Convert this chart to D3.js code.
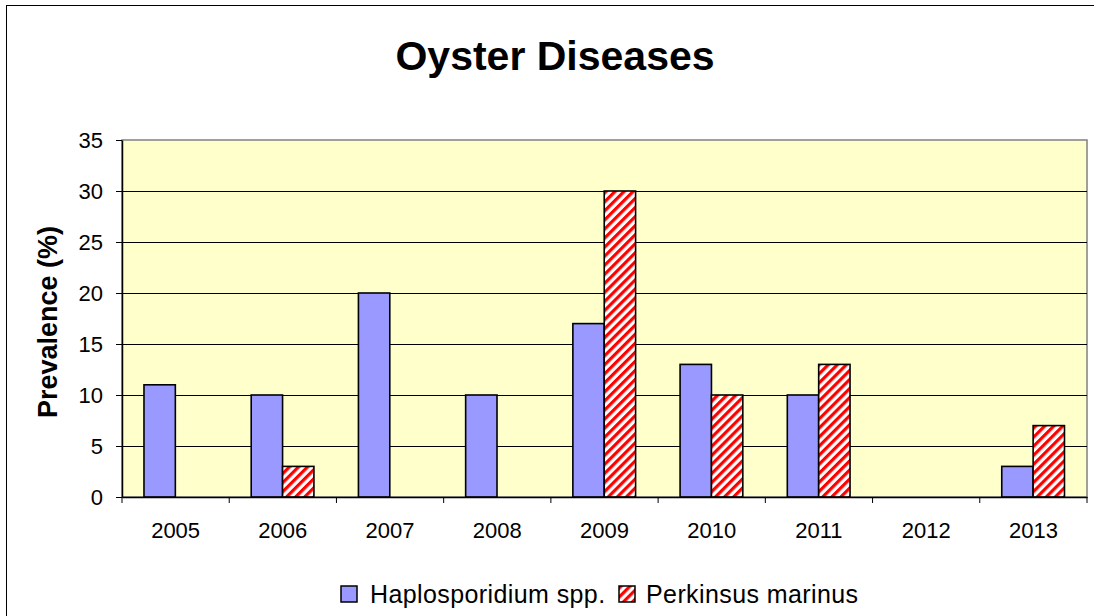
<!DOCTYPE html>
<html>
<head>
<meta charset="utf-8">
<script src="https://cdn.jsdelivr.net/npm/d3@7"></script>
<style>
  html, body { margin: 0; padding: 0; background: #fff; }
  svg { display: block; }
  text { font-family: "Liberation Sans", Arial, sans-serif; fill: #000; }
</style>
</head>
<body>
<svg id="chart" width="1094" height="616"></svg>
<script>
const years = ["2005","2006","2007","2008","2009","2010","2011","2012","2013"];
const seriesNames = ["Haplosporidium spp.", "Perkinsus marinus"];
const haplosporidium = [11, 10, 20, 10, 17, 13, 10, 0, 3];
const perkinsus = [0, 3, 0, 0, 30, 10, 13, 0, 7];
const yTicks = [0, 5, 10, 15, 20, 25, 30, 35];
const titleText = "Oyster Diseases";
const yLabel = "Prevalence (%)";

const svg = d3.select("#chart");
const plot = { left: 122, top: 140, right: 1087, bottom: 497 };

// outer frame
svg.append("rect").attr("x", 6.5).attr("y", 5.5).attr("width", 1200).attr("height", 800)
  .attr("fill", "#fff").attr("stroke", "#000").attr("stroke-width", 1);

// hatch pattern
const P = 6.4;
const defs = svg.append("defs");
const pat = defs.append("pattern").attr("id", "hatch").attr("patternUnits", "userSpaceOnUse")
  .attr("width", P).attr("height", P).attr("patternTransform", "rotate(45)");
pat.append("rect").attr("width", P).attr("height", P).attr("fill", "#fff");
pat.append("rect").attr("width", P * 0.5).attr("height", P).attr("fill", "#ff0000");

const x0 = d3.scaleBand().domain(years).range([plot.left, plot.right]).paddingInner(0).paddingOuter(0);
const x1 = d3.scaleBand().domain(seriesNames)
  .range([x0.bandwidth() * 0.205, x0.bandwidth() * 0.79]).padding(0);
const y = d3.scaleLinear().domain([0, 35]).range([plot.bottom, plot.top]);

// plot area background
svg.append("rect").attr("x", plot.left).attr("y", plot.top)
  .attr("width", plot.right - plot.left).attr("height", plot.bottom - plot.top)
  .attr("fill", "#ffffcc").attr("stroke", "#808080").attr("stroke-width", 1.5);

// gridlines
svg.append("g").selectAll("line").data(yTicks.filter(t => t > 0 && t < 35)).join("line")
  .attr("x1", plot.left).attr("x2", plot.right)
  .attr("y1", d => Math.round(y(d)) + 0.5).attr("y2", d => Math.round(y(d)) + 0.5)
  .attr("stroke", "#000").attr("stroke-width", 1);

// bars
const data = years.map((yr, i) => ({ year: yr, values: [
  { s: seriesNames[0], v: haplosporidium[i] },
  { s: seriesNames[1], v: perkinsus[i] }
]}));
const fills = { [seriesNames[0]]: "#9999ff", [seriesNames[1]]: "url(#hatch)" };

svg.append("g").selectAll("g").data(data).join("g")
  .attr("transform", d => `translate(${x0(d.year)},0)`)
  .selectAll("rect").data(d => d.values.filter(e => e.v > 0)).join("rect")
  .attr("x", d => x1(d.s)).attr("width", x1.bandwidth())
  .attr("y", d => y(d.v)).attr("height", d => y(0) - y(d.v))
  .attr("fill", d => fills[d.s]).attr("stroke", "#000").attr("stroke-width", 1.6);

// y axis
const yAxis = d3.axisLeft(y).tickValues(yTicks).tickSize(6).tickSizeOuter(0).tickFormat(d3.format("d"));
const gy = svg.append("g").attr("transform", `translate(${plot.left},0)`).call(yAxis);
gy.attr("font-size", null).attr("font-family", null);
gy.select(".domain").attr("stroke", "#000").attr("stroke-width", 1.5);
gy.selectAll(".tick line").attr("stroke", "#000");
gy.selectAll(".tick text").style("font-size", "22px").attr("x", -19).attr("dy", "0.36em")
  .attr("fill", "#000");

// x axis
const xAxis = d3.axisBottom(x0).tickSize(0).tickSizeOuter(0);
const gx = svg.append("g").attr("transform", `translate(0,${plot.bottom})`).call(xAxis);
gx.attr("font-size", null).attr("font-family", null);
gx.select(".domain").attr("stroke", "#000").attr("stroke-width", 1.5);
gx.selectAll(".tick text").style("font-size", "22px").attr("y", 41).attr("dy", null)
  .attr("fill", "#000");
// category boundary ticks
svg.append("g").selectAll("line").data(years.concat(["end"])).join("line")
  .attr("x1", d => d === "end" ? plot.right : x0(d)).attr("x2", d => d === "end" ? plot.right : x0(d))
  .attr("y1", plot.bottom).attr("y2", plot.bottom + 6).attr("stroke", "#000").attr("stroke-width", 1);

// title
svg.append("text").attr("x", 555).attr("y", 70).attr("text-anchor", "middle")
  .style("font-size", "41px").attr("font-weight", "bold").text(titleText);

// y label
svg.append("text").attr("transform", `translate(57,322) rotate(-90)`)
  .attr("text-anchor", "middle").style("font-size", "27px").attr("font-weight", "bold").text(yLabel);

// legend
const legend = svg.append("g");
const legendItems = [
  { name: seriesNames[0], fill: "#9999ff", x: 341, tx: 370 },
  { name: seriesNames[1], fill: "url(#hatch)", x: 619, tx: 646 }
];
const lg = legend.selectAll("g").data(legendItems).join("g")
  .attr("transform", d => `translate(${d.x},586)`);
lg.append("rect").attr("width", 16).attr("height", 16).attr("fill", d => d.fill)
  .attr("stroke", "#000").attr("stroke-width", 1.5);
lg.append("text").attr("x", d => d.tx - d.x).attr("y", 17).style("font-size", "25px").attr("letter-spacing", 0.4)
  .text(d => d.name);
</script>
</body>
</html>
